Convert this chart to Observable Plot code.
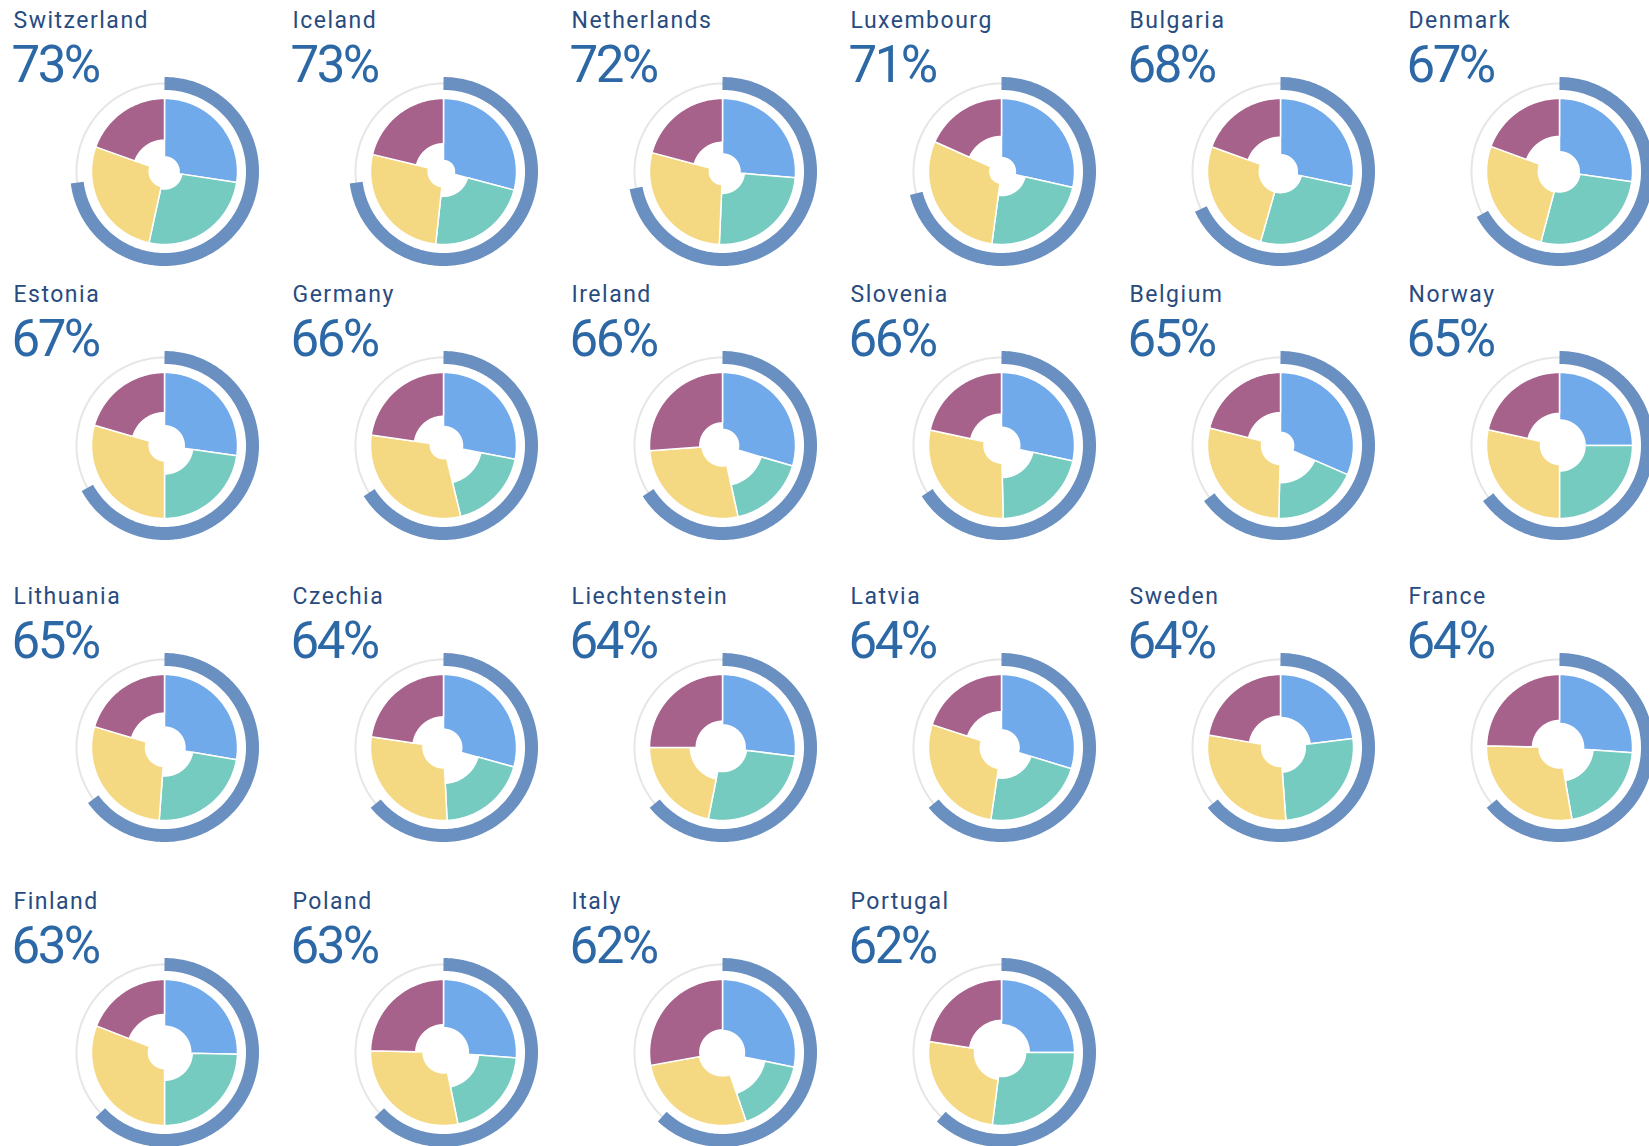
<!DOCTYPE html>
<html><head><meta charset="utf-8">
<script src="https://cdn.jsdelivr.net/npm/d3@7"></script>
<script src="https://cdn.jsdelivr.net/npm/@observablehq/plot@0.6"></script>
<style>
html,body{margin:0;padding:0;background:#fff;overflow:hidden;}
#grid{position:relative;width:1649px;height:1146px;overflow:hidden;}
#grid > div{position:absolute;width:279px;}
#grid svg{max-width:none !important;}
</style></head><body><div id="grid"></div>
<script>
// ---- data ----
const countries = ["Switzerland","Iceland","Netherlands","Luxembourg","Bulgaria","Denmark",
  "Estonia","Germany","Ireland","Slovenia","Belgium","Norway",
  "Lithuania","Czechia","Liechtenstein","Latvia","Sweden","France",
  "Finland","Poland","Italy","Portugal"];
const overall = [73,73,72,71,68,67,67,66,66,66,65,65,65,64,64,64,64,64,63,63,62,62];
// four component scores per country (blue, teal, yellow, purple)
const scoreA = [80,85,76,81,77,73,73,74,78,75,82,65,72,75,69,76,59,67,64,66,70,62];
const scoreB = [76,66,70,67,71,72,61,48,45,56,49,65,61,51,67,58,66,54,62,52,41,67];
const scoreC = [79,79,82,84,71,71,79,82,72,76,74,74,74,72,56,71,74,72,78,72,68,63];
const scoreD = [57,62,60,52,53,52,55,60,69,57,55,56,53,58,64,51,57,63,48,62,69,56];
const segmentKeys = ["A","B","C","D"];
const segmentColors = ["#71aaeb","#76cbc0","#f5d982","#a7628c"];

// ---- layout ----
const COLS = 6, CELL_W = 279, CELL_H = 282;
const rowCenters = [171, 445, 747, 1052];
const CX = 164, CY = 171;   // circle centre inside a cell (px)
const R = 73;               // px radius that corresponds to 100 %
const RING_R = 88;          // px radius of the overall ring

function arc(r, a0, a1) {
  const n = Math.max(2, Math.ceil(Math.abs(a1 - a0)));
  return d3.range(n + 1).map(j => {
    const a = (a0 + (a1 - a0) * j / n) * Math.PI / 180;
    return {x: r * Math.sin(a), y: r * Math.cos(a)};
  });
}

const grid = document.getElementById("grid");
countries.forEach((name, i) => {
  const scores = [scoreA[i], scoreB[i], scoreC[i], scoreD[i]];
  const total = d3.sum(scores);
  let cum = 0;
  const segPts = [];
  scores.forEach((s, k) => {
    const a0 = cum / total * 360, a1 = (cum + s) / total * 360;
    cum += s;
    const rin = 1 - s / 100;
    const outer = arc(1, a0, a1), inner = arc(rin, a1, a0);
    [...outer, ...inner, outer[0]].forEach(p => segPts.push({...p, key: segmentKeys[k]}));
  });
  const rr = RING_R / R;
  const track = arc(rr, 0, 360);
  const ring = arc(rr, 0, overall[i] * 3.6);

  const plot = Plot.plot({
    width: CELL_W, height: CELL_H,
    margin: 0,
    x: {domain: [-CX / R, (CELL_W - CX) / R], axis: null},
    y: {domain: [-(CELL_H - CY) / R, CY / R], axis: null},
    color: {domain: segmentKeys, range: segmentColors},
    style: {background: "transparent", overflow: "visible", maxWidth: "none"},
    marks: [
      Plot.line(track, {x: "x", y: "y", stroke: "#e6e6e6", strokeWidth: 2}),
      Plot.line(ring, {x: "x", y: "y", stroke: "#6a8fc1", strokeWidth: 13, strokeLinecap: "butt"}),
      Plot.line(segPts, {x: "x", y: "y", z: "key", fill: "key", stroke: "white", strokeWidth: 1.5, strokeLinejoin: "round"}),
      Plot.text([name], {text: d => d, frameAnchor: "top-left", textAnchor: "start", lineAnchor: "bottom",
        dx: 13, dy: 27, fontSize: 23, fill: "#284b80", fontFamily: "Roboto"}),
      Plot.text([overall[i] + "%"], {text: d => d, frameAnchor: "top-left", textAnchor: "start", lineAnchor: "bottom",
        dx: 11, dy: 81, fontSize: 51, fill: "#2d68a6", fontFamily: "Roboto"})
    ]
  });
  const texts = plot.querySelectorAll('g[aria-label="text"]');
  if (texts[0]) texts[0].style.letterSpacing = "1.5px";
  if (texts[1]) texts[1].style.letterSpacing = "-2.5px";
  const cell = document.createElement("div");
  cell.style.left = ((i % COLS) * CELL_W) + "px";
  cell.style.top = (rowCenters[Math.floor(i / COLS)] - CY) + "px";
  cell.appendChild(plot);
  grid.appendChild(cell);
});
</script></body></html>
